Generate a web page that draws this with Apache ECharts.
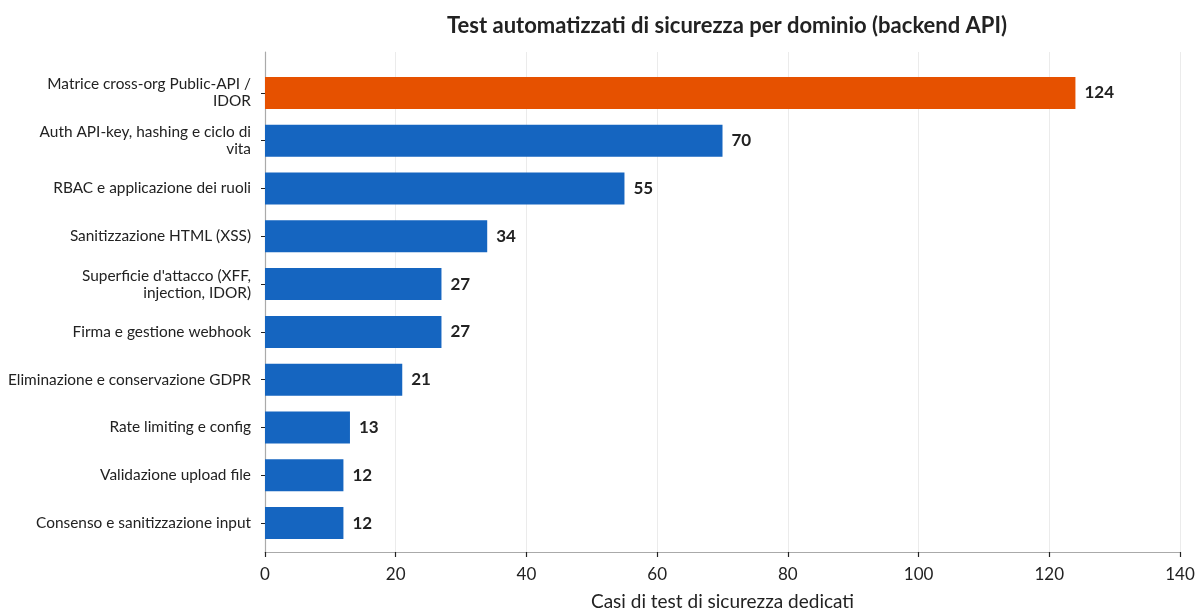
<!DOCTYPE html>
<html><head><meta charset="utf-8">
<script src="https://cdn.jsdelivr.net/npm/echarts@6/dist/echarts.min.js"></script>
<style>html,body{margin:0;padding:0;background:#fff}#c{width:1201px;height:616px}</style>
</head><body><div id="c"></div>
<script>
const categories = [
  "Matrice cross-org Public-API /\nIDOR",
  "Auth API-key, hashing e ciclo di\nvita",
  "RBAC e applicazione dei ruoli",
  "Sanitizzazione HTML (XSS)",
  "Superficie d'attacco (XFF,\ninjection, IDOR)",
  "Firma e gestione webhook",
  "Eliminazione e conservazione GDPR",
  "Rate limiting e config",
  "Validazione upload file",
  "Consenso e sanitizzazione input"
];
const values = [124, 70, 55, 34, 27, 27, 21, 13, 12, 12];
const xTicks = [0, 20, 40, 60, 80, 100, 120, 140];
const highlightIndex = 0;

const FONT = "Lato";
const chart = echarts.init(document.getElementById('c'));
chart.setOption({
  backgroundColor: '#fff',
  textStyle: { fontFamily: FONT },
  title: {
    text: 'Test automatizzati di sicurezza per dominio (backend API)',
    left: 722, top: 10, textAlign: 'center',
    textStyle: { fontFamily: FONT, fontSize: 22, fontWeight: 'bold', color: '#222' }
  },
  grid: [
    { left: 265, right: 21, top: 69, bottom: 69 },
    { left: 265, right: 21, top: 52, bottom: 54 }
  ],
  xAxis: [
    { gridIndex: 0, type: 'value', min: xTicks[0], max: xTicks[xTicks.length - 1], interval: 20, show: false },
    { gridIndex: 1, type: 'value', min: xTicks[0], max: xTicks[xTicks.length - 1], interval: 20,
      axisLine: { show: true, lineStyle: { color: '#aaaaaa', width: 1.2 } },
      axisTick: { show: true, length: 5, lineStyle: { color: '#222', width: 1.2 } },
      axisLabel: { color: '#222', fontSize: 17, fontFamily: FONT, margin: 14 },
      splitLine: { show: true, lineStyle: { color: '#ebebeb', width: 1 } },
      name: 'Casi di test di sicurezza dedicati', nameLocation: 'middle', nameGap: 40,
      nameTextStyle: { color: '#222', fontSize: 19, fontFamily: FONT }
    }
  ],
  yAxis: [
    { gridIndex: 0, type: 'category', data: categories, inverse: true,
      axisLine: { show: false },
      axisTick: { show: true, length: 4, alignWithLabel: true, lineStyle: { color: '#222' } },
      axisLabel: { color: '#222', fontSize: 15.4, fontFamily: FONT, margin: 14, lineHeight: 17, align: 'right' },
      splitLine: { show: false }
    },
    { gridIndex: 1, type: 'value', min: 0, max: 1,
      axisLine: { show: true, lineStyle: { color: '#aaaaaa', width: 1.2 } },
      axisTick: { show: false }, axisLabel: { show: false }, splitLine: { show: false }
    }
  ],
  series: [{
    type: 'bar', xAxisIndex: 0, yAxisIndex: 0,
    data: values.map((v, i) => ({ value: v, itemStyle: { color: i === highlightIndex ? '#E65100' : '#1565C0' } })),
    barWidth: '67%',
    label: { show: true, position: 'right', distance: 9, fontSize: 17, fontWeight: 'bold', color: '#222', fontFamily: FONT },
    z: 3
  }]
});
</script></body></html>
